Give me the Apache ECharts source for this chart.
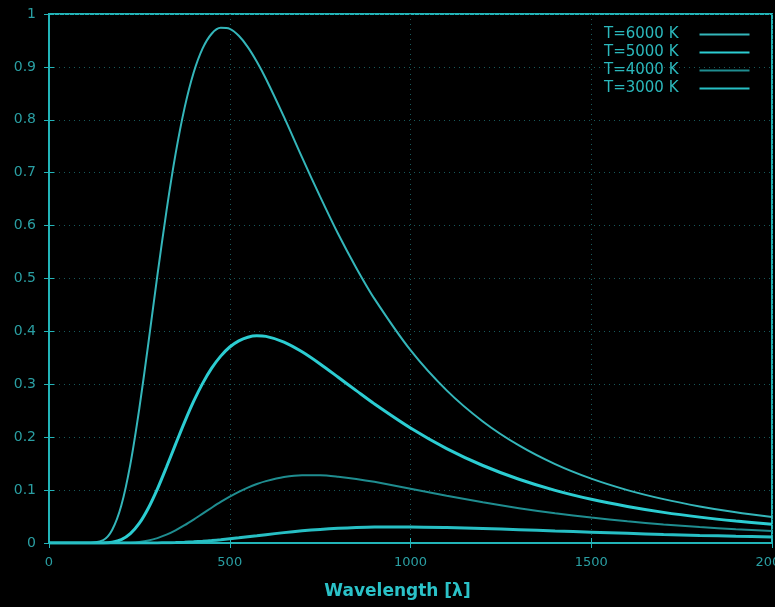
<!DOCTYPE html>
<html>
<head>
<meta charset="utf-8">
<script src="https://cdn.jsdelivr.net/npm/echarts@6/dist/echarts.min.js"></script>
<style>
  html, body { margin: 0; padding: 0; background: #000; }
  #chart { width: 775px; height: 607px; }
</style>
</head>
<body>
<div id="chart"></div>
<script>
// wavelength samples (nm)
var wavelengths = [0, 100, 150, 175, 200, 225, 250, 275, 300, 325, 350, 375, 400, 425, 450, 475, 500, 525, 550, 575, 600,
  650, 700, 750, 800, 850, 900, 1000, 1100, 1200, 1300, 1400, 1500, 1600, 1700, 1800, 1900, 2000]

var t6000 = [0, 0, 0.0055, 0.025, 0.0707, 0.1486, 0.2548, 0.3785, 0.5067, 0.628, 0.735, 0.8225, 0.889, 0.935, 0.9627, 0.9738, 0.972, 0.9588, 0.9375, 0.9098, 0.8777,
  0.8055, 0.729, 0.6547, 0.584, 0.52, 0.462, 0.3645, 0.2885, 0.2298, 0.1844, 0.1491, 0.1216, 0.1, 0.0829, 0.0692, 0.0581, 0.0492]
var t5000 = [0, 0, 0.0002, 0.0016, 0.0064, 0.0177, 0.0374, 0.0662, 0.1024, 0.1436, 0.1865, 0.2286, 0.2676, 0.3018, 0.3305, 0.3533, 0.3705, 0.3822, 0.389, 0.3916, 0.3906,
  0.3799, 0.3615, 0.3385, 0.3134, 0.288, 0.263, 0.2174, 0.1785, 0.1465, 0.1205, 0.0995, 0.0826, 0.069, 0.0579, 0.0489, 0.0415, 0.0354]
var t4000 = [0, 0, 0, 0, 0.0002, 0.0007, 0.0021, 0.0048, 0.0093, 0.0157, 0.0239, 0.0336, 0.0443, 0.0555, 0.0667, 0.0776, 0.0877, 0.0968, 0.1048, 0.1115, 0.117,
  0.1246, 0.128, 0.128, 0.1254, 0.1211, 0.1156, 0.1027, 0.0894, 0.0769, 0.0658, 0.0562, 0.048, 0.041, 0.0352, 0.0302, 0.0261, 0.0226]
var t3000 = [0, 0, 0, 0, 0, 0, 0, 0, 0.0002, 0.0004, 0.0008, 0.0014, 0.0022, 0.0033, 0.0046, 0.0062, 0.008, 0.0098, 0.0118, 0.0138, 0.0158,
  0.0196, 0.023, 0.0257, 0.0278, 0.0292, 0.0301, 0.0304, 0.0293, 0.0274, 0.0252, 0.0228, 0.0205, 0.0183, 0.0162, 0.0144, 0.0128, 0.0114]

var seriesNames = ['T=6000 K', 'T=5000 K', 'T=4000 K', 'T=3000 K']

var axisColor = '#22b4b8'
var labelColor = '#2a9fa3'
var gridColor = '#17595b'
var font = 'DejaVu Sans'

var myChart = echarts.init(document.getElementById('chart'))

function pairs (ys) {
  return wavelengths.map(function (x, i) { return [x, ys[i]] })
}

function curve (name, ys, color, width) {
  return {
    name: name,
    type: 'line',
    data: pairs(ys),
    smooth: 0.3,
    symbol: 'none',
    lineStyle: { color: color, width: width },
    itemStyle: { color: color }
  }
}

var option = {
  backgroundColor: '#000',
  animation: false,
  grid: {
    left: 49,
    right: 3,
    top: 14,
    bottom: 64,
    outerBoundsMode: 'none',
    show: true,
    borderColor: axisColor,
    borderWidth: 2
  },
  legend: {
    orient: 'vertical',
    left: 599,
    top: 22,
    align: 'right',
    itemWidth: 50,
    itemHeight: 14,
    itemGap: 3,
    itemStyle: { opacity: 0 },
    textStyle: { color: '#2bb8bc', fontSize: 15, fontFamily: font, padding: [0, 16, 0, 0] },
    data: seriesNames
  },
  xAxis: [{
    type: 'value',
    min: 0,
    max: 2000,
    interval: 500,
    name: 'Wavelength [λ]',
    nameLocation: 'middle',
    nameGap: 40,
    nameTextStyle: { color: '#2bc2c8', fontSize: 17, fontWeight: 'bold', fontFamily: font, padding: [0, 26, 0, 0] },
    axisLine: { show: true, lineStyle: { color: axisColor, width: 2 } },
    axisTick: { show: true, inside: true, length: 5, lineStyle: { color: axisColor } },
    axisLabel: {
      color: labelColor, fontSize: 13, margin: 13, fontFamily: font,
      formatter: function (v) { return String(v) }
    },
    splitLine: { show: true, lineStyle: { color: gridColor, type: [1, 4], width: 1 } }
  }, {
    type: 'value',
    position: 'top',
    min: 0,
    max: 2000,
    interval: 500,
    axisLine: { show: true, lineStyle: { color: axisColor, width: 2 } },
    axisTick: { show: true, inside: true, length: 5, lineStyle: { color: axisColor } },
    axisLabel: { show: false },
    splitLine: { show: false }
  }],
  yAxis: [{
    type: 'value',
    min: 0,
    max: 1,
    interval: 0.1,
    axisLine: { show: true, lineStyle: { color: axisColor, width: 2 } },
    axisTick: { show: true, inside: true, length: 5, lineStyle: { color: axisColor } },
    axisLabel: { color: labelColor, fontSize: 14, margin: 13, fontFamily: font },
    splitLine: { show: true, lineStyle: { color: gridColor, type: [1, 4], width: 1 } }
  }, {
    type: 'value',
    position: 'right',
    min: 0,
    max: 1,
    interval: 0.1,
    axisLine: { show: true, lineStyle: { color: axisColor, width: 2 } },
    axisTick: { show: true, inside: true, length: 5, lineStyle: { color: axisColor } },
    axisLabel: { show: false },
    splitLine: { show: false }
  }],
  series: [
    curve(seriesNames[0], t6000, '#34b6ba', 2),
    curve(seriesNames[1], t5000, '#2ccdd2', 3),
    curve(seriesNames[2], t4000, '#1f8d90', 2),
    curve(seriesNames[3], t3000, '#27bfc4', 3)
  ]
}

myChart.setOption(option)
</script>
</body>
</html>
